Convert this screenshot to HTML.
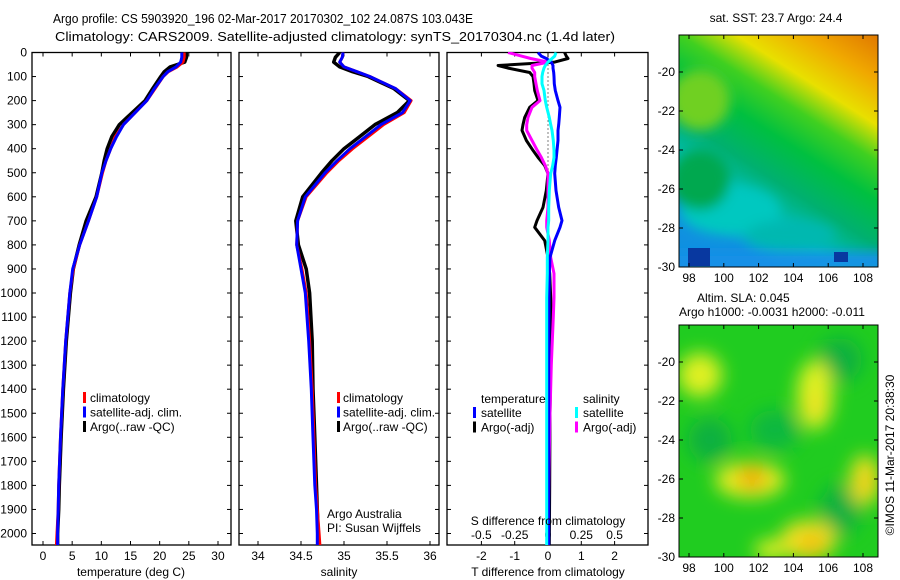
<!DOCTYPE html>
<html><head><meta charset="utf-8">
<style>
html,body{margin:0;padding:0;background:#fff;}
svg{display:block;font-family:"Liberation Sans",sans-serif;}
text{font-size:12px;fill:#000;}
</style></head>
<body>
<svg id="chart" width="900" height="580" viewBox="0 0 900 580">
<defs>
<filter id="blur1" x="-50%" y="-50%" width="200%" height="200%"><feGaussianBlur stdDeviation="6"/></filter>
<filter id="blur2" x="-50%" y="-50%" width="200%" height="200%"><feGaussianBlur stdDeviation="9"/></filter>
<linearGradient id="sstGrad" x1="1" y1="0" x2="0.45" y2="1">
<stop offset="0" stop-color="#e07800"/>
<stop offset="0.15" stop-color="#f0a800"/>
<stop offset="0.3" stop-color="#e8e000"/>
<stop offset="0.42" stop-color="#40d020"/>
<stop offset="0.55" stop-color="#00c040"/>
<stop offset="0.7" stop-color="#00b070"/>
<stop offset="0.85" stop-color="#00c0c0"/>
<stop offset="1" stop-color="#1090e0"/>
</linearGradient>
<clipPath id="clipMap1"><rect x="679" y="35" width="199" height="232"/></clipPath>
<clipPath id="clipMap2"><rect x="679" y="325" width="199" height="232"/></clipPath>
<clipPath id="clipP1"><rect x="32" y="52" width="199" height="493"/></clipPath>
<clipPath id="clipP2"><rect x="239" y="52" width="200" height="493"/></clipPath>
<clipPath id="clipP3"><rect x="447" y="52" width="201" height="493"/></clipPath>
</defs>
<text x="53" y="23" textLength="420" lengthAdjust="spacingAndGlyphs" style="font-size:13px">Argo profile: CS 5903920_196 02-Mar-2017 20170302_102 24.087S 103.043E</text>
<text x="55" y="41" textLength="560" lengthAdjust="spacingAndGlyphs" style="font-size:13px">Climatology: CARS2009. Satellite-adjusted climatology: synTS_20170304.nc (1.4d later)</text>
<g id="g1"></g>
<g id="g2"></g>
<g id="g3"></g>
<g id="gm1"></g>
<g id="gm2"></g>
<text x="776" y="22" text-anchor="middle">sat. SST: 23.7 Argo: 24.4</text>
<text x="697" y="302">Altim. SLA: 0.045</text>
<text x="679" y="316">Argo h1000: -0.0031 h2000: -0.011</text>
<text transform="translate(894,455) rotate(-90)" text-anchor="middle">©IMOS 11-Mar-2017 20:38:30</text>
</svg>
<script>
// ---------- data ----------
const depthTicks = [0,100,200,300,400,500,600,700,800,900,1000,1100,1200,1300,1400,1500,1600,1700,1800,1900,2000];
const tempTicks = [0,5,10,15,20,25,30];
const salTicks = [34,34.5,35,35.5,36];
const salTickLabels = ["34","34.5","35","35.5","36"];
const tdiffTicks = [-2,-1,0,1,2];
const sdiffTicks = [-0.5,-0.25,0,0.25,0.5];
const sdiffTickLabels = ["-0.5","-0.25","0","0.25","0.5"];

const profDepth   = [0,20,40,60,80,100,150,200,250,300,350,400,450,500,600,700,800,900,1000,1200,1400,1600,1800,1900,2000,2050];
const tempClim    = [24.2,24.2,24.0,23.0,21.5,20.6,19.2,17.8,15.8,13.8,12.4,11.6,10.8,10.2,9.2,7.8,6.3,5.2,4.6,3.9,3.4,3.0,2.7,2.6,2.4,2.3];
const tempSat     = [23.8,23.8,23.6,22.8,21.4,20.6,19.1,17.8,15.8,13.8,12.6,11.6,10.8,10.1,9.2,7.8,6.3,5.1,4.6,3.9,3.4,3.0,2.7,2.6,2.5,2.5];
const tempArgo    = [24.6,24.6,24.3,21.8,20.8,20.2,18.8,17.5,15.3,13.1,11.8,11.0,10.5,10.1,9.1,7.4,6.2,5.2,4.7,4.0,3.5,3.1,2.8,2.7,2.5,2.5];

const salClim     = [34.99,34.98,34.95,35.0,35.15,35.3,35.6,35.78,35.7,35.46,35.28,35.1,34.94,34.8,34.56,34.46,34.45,34.51,34.56,34.6,34.63,34.65,34.67,34.69,34.71,34.72];
const salSat      = [34.99,34.98,34.95,35.0,35.15,35.3,35.6,35.77,35.68,35.43,35.25,35.07,34.92,34.78,34.55,34.46,34.45,34.5,34.55,34.59,34.62,34.64,34.66,34.68,34.69,34.69];
const salArgo     = [34.95,34.90,34.88,34.95,35.1,35.28,35.58,35.76,35.62,35.36,35.18,35.0,34.86,34.74,34.52,34.44,34.47,34.56,34.6,34.63,34.64,34.66,34.68,34.69,34.70,34.70];

const diffDepth   = [0,15,25,40,54,65,83,100,130,158,200,228,270,300,324,366,407,436,470,503,574,644,699,727,782,852,919,1019,1100,1300,1500,1800,2050];
const tdiffSat    = [-0.3,-0.2,-0.05,0.1,0.15,0.15,0.17,0.18,0.19,0.22,0.3,0.36,0.34,0.32,0.3,0.3,0.27,0.25,0.22,0.2,0.24,0.32,0.42,0.36,0.2,0.06,0.04,0.03,0.03,0.02,0.02,0.02,0.02];
const tdiffArgo   = [0.5,0.55,0.6,0.2,-1.5,-1.2,-0.55,-0.45,-0.42,-0.4,-0.3,-0.55,-0.7,-0.75,-0.78,-0.65,-0.45,-0.3,-0.1,0.0,-0.05,-0.15,-0.33,-0.4,-0.1,0.0,0.05,0.08,0.1,0.08,0.06,0.05,0.04];
const sdiffSat    = [0.06,0.05,0.03,0.0,-0.02,-0.03,-0.04,-0.045,-0.045,-0.03,-0.02,-0.01,0.01,0.02,0.03,0.04,0.045,0.045,0.035,0.02,0.01,0.005,0.005,0.0,0.0,-0.005,-0.005,-0.01,-0.01,-0.01,-0.01,-0.01,-0.01];
const sdiffArgo   = [-0.3,-0.2,-0.13,0.0,-0.12,-0.12,-0.1,-0.1,-0.09,-0.08,-0.06,-0.12,-0.15,-0.16,-0.16,-0.12,-0.08,-0.05,-0.02,0.0,0.0,0.0,-0.01,-0.01,0.01,0.02,0.045,0.045,0.04,0.025,0.015,0.005,0.0];

const latTicks = [-20,-22,-24,-26,-28,-30];
const lonTicks = [98,100,102,104,106,108];

// ---------- scales ----------
const yD = d => 52.5 + d*0.2405;
const xT = t => 43 + t*5.833;
const xS = s => 258 + (s-34)*86;
const xTd = t => 548 + t*33.3;
const xSd = s => 548 + s*133.2;
const NS = "http://www.w3.org/2000/svg";
function mk(tag, attrs, parent){ const e=document.createElementNS(NS,tag); for(const k in attrs) e.setAttribute(k,attrs[k]); parent.appendChild(e); return e; }
function txt(parent, x, y, s, anchor){ const t=mk('text',{x:x,y:y,'text-anchor':anchor||'start'},parent); t.textContent=s; return t; }

function frame(g, x0, x1, y0, y1, name){
  const r = mk('rect',{x:x0,y:y0,width:x1-x0,height:y1-y0,fill:'none',stroke:'#000','stroke-width':1.3},g);
  
  
}
function depthTicksOn(g, x0, x1, labels){
  depthTicks.forEach(d=>{
    const y=yD(d);
    mk('line',{x1:x0,y1:y,x2:x0+4,y2:y,stroke:'#000'},g);
    mk('line',{x1:x1,y1:y,x2:x1-4,y2:y,stroke:'#000'},g);
    if(labels){ const t=txt(g,27,y+4,String(d),'end');
      
       }
  });
}
function xTicksOn(g, vals, labels, fx, y0, y1, ly){
  vals.forEach((v,i)=>{
    const x=fx(v);
    mk('line',{x1:x,y1:y1,x2:x,y2:y1-4,stroke:'#000'},g);
    mk('line',{x1:x,y1:y0,x2:x,y2:y0+4,stroke:'#000'},g);
    const t=txt(g,x,ly,labels[i],'middle');
    
    
  });
}
function line(g, xs, ds, fx, color, w, name, clip){
  const pts = xs.map((v,i)=>fx(v).toFixed(1)+','+yD(ds[i]).toFixed(1)).join(' ');
  const p = mk('polyline',{points:pts,fill:'none',stroke:color,'stroke-width':w,'stroke-linejoin':'round','clip-path':'url(#'+clip+')'},g);
  
  
}
function legendMark(g,x,y,color){ mk('rect',{x:x,y:y-9,width:3,height:11,fill:color},g); }

// ---------- panel 1 ----------
const g1=document.getElementById('g1');
frame(g1,32,231,52.5,545,'temperature-plot-frame');
depthTicksOn(g1,32,231,true);
xTicksOn(g1,tempTicks,tempTicks.map(String),xT,52.5,545,560);
line(g1,tempArgo,profDepth,xT,'#000',3.5,'argo-temperature-line','clipP1');
line(g1,tempClim,profDepth,xT,'#f00',3,'climatology-temperature-line','clipP1');
line(g1,tempSat,profDepth,xT,'#00f',3,'satellite-temperature-line','clipP1');
txt(g1,131,576,'temperature (deg C)','middle');
[['#f00','climatology'],['#00f','satellite-adj. clim.'],['#000','Argo(..raw -QC)']].forEach((L,i)=>{
  legendMark(g1,83,401+i*14.5,L[0]); const t=txt(g1,90,402+i*14.5,L[1]);
  
  
});

// ---------- panel 2 ----------
const g2=document.getElementById('g2');
frame(g2,239,439,52.5,545,'salinity-plot-frame');
depthTicksOn(g2,239,439,false);
xTicksOn(g2,salTicks,salTickLabels,xS,52.5,545,560);
line(g2,salArgo,profDepth,xS,'#000',3.5,'argo-salinity-line','clipP2');
line(g2,salClim,profDepth,xS,'#f00',3,'climatology-salinity-line','clipP2');
line(g2,salSat,profDepth,xS,'#00f',3,'satellite-salinity-line','clipP2');
txt(g2,339,576,'salinity','middle');
[['#f00','climatology'],['#00f','satellite-adj. clim.'],['#000','Argo(..raw -QC)']].forEach((L,i)=>{
  legendMark(g2,337,401+i*14.5,L[0]); const t=txt(g2,343,402+i*14.5,L[1]);
  
  
});
txt(g2,327,518,'Argo Australia');
txt(g2,327,532,'PI: Susan Wijffels');

// ---------- panel 3 ----------
const g3=document.getElementById('g3');
frame(g3,447,648,52.5,545,'difference-plot-frame');
depthTicksOn(g3,447,648,false);
tdiffTicks.forEach(v=>{const x=xTd(v); mk('line',{x1:x,y1:545,x2:x,y2:541,stroke:'#000'},g3); mk('line',{x1:x,y1:52.5,x2:x,y2:56.5,stroke:'#000'},g3);
  const t=txt(g3,x,560,String(v),'middle');  });
sdiffTicks.forEach((v,i)=>{const t=txt(g3,xSd(v),539,sdiffTickLabels[i],'middle');  });
mk('line',{x1:548,y1:yD(0),x2:548,y2:yD(500),stroke:'#000','stroke-dasharray':'1,3'},g3);
line(g3,tdiffArgo,diffDepth,xTd,'#000',3,'argo-t-diff-line','clipP3');
line(g3,sdiffArgo,diffDepth,xSd,'#f0f',3,'argo-s-diff-line','clipP3');
line(g3,tdiffSat,diffDepth,xTd,'#00f',3,'satellite-t-diff-line','clipP3');
line(g3,sdiffSat,diffDepth,xSd,'#0ff',3,'satellite-s-diff-line','clipP3');
txt(g3,548,525,'S difference from climatology','middle');
txt(g3,548,576,'T difference from climatology','middle');
txt(g3,481,403,'temperature');
txt(g3,583,403,'salinity');
[['#00f','satellite',473],['#000','Argo(-adj)',473],['#0ff','satellite',575],['#f0f','Argo(-adj)',575]].forEach((L,i)=>{
  const row=i%2; legendMark(g3,L[2],416+row*14.5,L[0]); const t=txt(g3,L[2]+8,417+row*14.5,L[1]);
  
  
});

// ---------- maps ----------
const xLon = l => 689 + (l-98)*17.4;
function mapAxes(g, top, bottom, latZeroY){
  const yLat = la => latZeroY + (-20-la)*19.5;
  mk('rect',{x:679,y:top,width:199,height:bottom-top,fill:'none',stroke:'#000','stroke-width':1},g);
  latTicks.forEach(la=>{const y=yLat(la); mk('line',{x1:679,y1:y,x2:683,y2:y,stroke:'#000'},g); mk('line',{x1:878,y1:y,x2:874,y2:y,stroke:'#000'},g);
    const t=txt(g,675,y+4,String(la),'end');  });
  lonTicks.forEach(lo=>{const x=xLon(lo); mk('line',{x1:x,y1:top,x2:x,y2:top+4,stroke:'#000'},g); mk('line',{x1:x,y1:bottom,x2:x,y2:bottom-4,stroke:'#000'},g);
    const t=txt(g,x,bottom+15,String(lo),'middle');  });
  return yLat;
}
const gm1=document.getElementById('gm1');
const c1=mk('g',{'clip-path':'url(#clipMap1)'},gm1);
mk('rect',{x:679,y:35,width:199,height:232,fill:'url(#sstGrad)'},c1);
const b1=mk('g',{filter:'url(#blur1)'},c1);
mk('ellipse',{cx:730,cy:210,rx:50,ry:25,fill:'#00c8c0'},b1);
mk('ellipse',{cx:790,cy:235,rx:45,ry:15,fill:'#00b8b0'},b1);
mk('rect',{x:670,y:252,width:220,height:20,fill:'#1890e8'},b1);
mk('ellipse',{cx:700,cy:100,rx:30,ry:30,fill:'#70d020'},b1);
mk('ellipse',{cx:700,cy:180,rx:30,ry:30,fill:'#00a850'},b1);
mk('rect',{x:688,y:248,width:22,height:18,fill:'#0838a0'},c1);
mk('rect',{x:834,y:252,width:14,height:10,fill:'#0838a0'},c1);
const yl1 = mapAxes(gm1,35,267,72);

const gm2=document.getElementById('gm2');
const c2=mk('g',{'clip-path':'url(#clipMap2)'},gm2);
mk('rect',{x:679,y:325,width:199,height:232,fill:'#20cc20'},c2);
const b2=mk('g',{filter:'url(#blur2)'},c2);
[[840,360,22,22,'#10b040'],[710,440,22,22,'#10b040'],[840,510,20,25,'#10b040'],[775,430,25,20,'#10b840'],
 [700,375,22,22,'#e0f020'],[750,480,35,18,'#e8ec20'],[752,478,14,12,'#f0a800'],[815,395,18,35,'#e0f020'],[816,405,10,12,'#f0e020'],
 [808,540,28,20,'#f0e020'],[812,544,12,10,'#f0b800'],[865,480,15,25,'#f0e020'],[867,482,6,10,'#f0c000'],[770,550,15,10,'#e8f020']].forEach(e=>{
  mk('ellipse',{cx:e[0],cy:e[1],rx:e[2],ry:e[3],fill:e[4]},b2);
});
const yl2 = mapAxes(gm2,325,557,362);
</script>
</body></html>
